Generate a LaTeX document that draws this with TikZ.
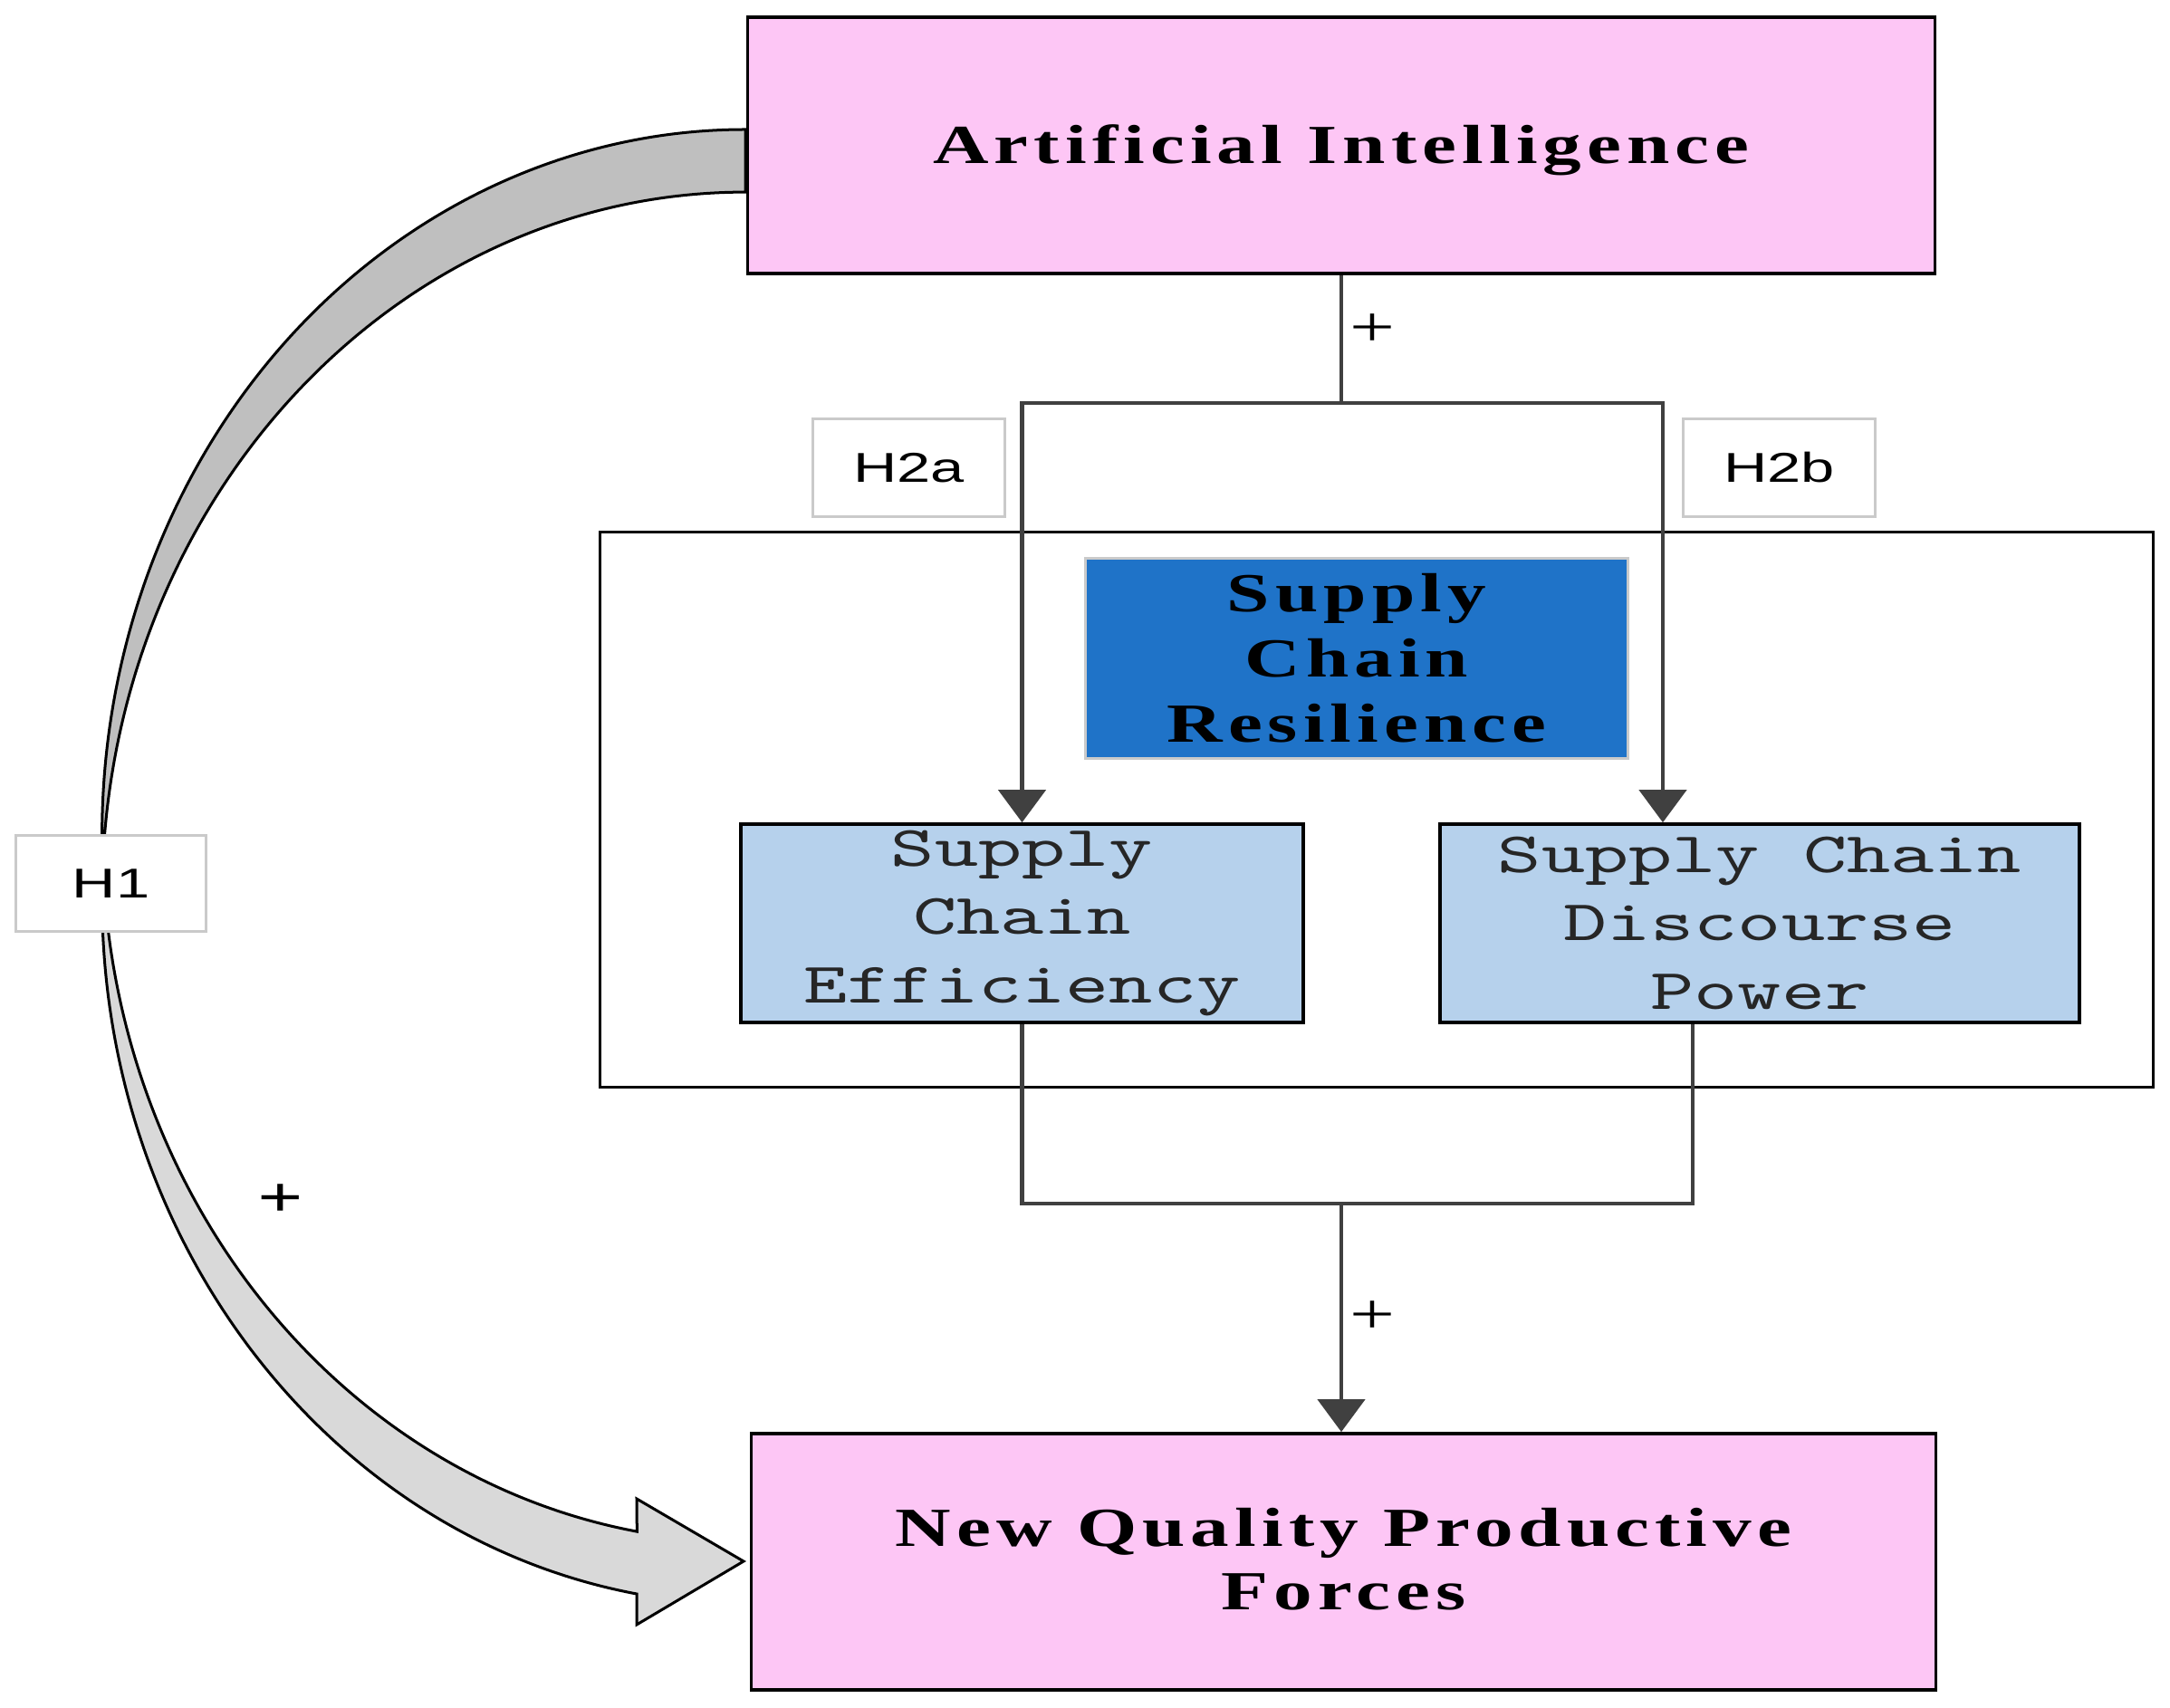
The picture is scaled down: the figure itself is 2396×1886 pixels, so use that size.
\documentclass[tikz,border=0pt]{standalone}
\usepackage{fontspec}
\usetikzlibrary{positioning,arrows.meta}
\newfontfamily\serifwide[FakeStretch=1.4,LetterSpace=10]{Liberation Serif}
\newfontfamily\monowide[FakeStretch=1.45]{lmmono10-regular.otf}
\newfontfamily\sanswide[FakeStretch=1.45]{Liberation Sans}
\definecolor{aipink}{HTML}{FDC6F5}
\definecolor{scrblue}{HTML}{1F73C8}
\definecolor{medblue}{HTML}{B6D1EC}
\definecolor{linkgray}{HTML}{404040}
\definecolor{hbord}{HTML}{CACACA}
\definecolor{backface}{HTML}{BFBFBF}
\definecolor{frontface}{HTML}{D9D9D9}

\begin{document}
\begin{tikzpicture}[x=0.01cm, y=-0.01cm,
            pinkbox/.style={rectangle, draw=black, line width=0.035cm, fill=aipink,
                   minimum width=13.1cm, minimum height=2.83cm, align=center,
                   font=\serifwide\bfseries\fontsize{17.3}{19.9}\selectfont},
            scrbox/.style={rectangle, draw=hbord, line width=0.03cm, fill=scrblue,
                   minimum width=5.98cm, minimum height=2.2cm, align=center,
                   font=\serifwide\bfseries\fontsize{17.3}{20.5}\selectfont},
            medbox/.style={rectangle, draw=black, line width=0.035cm, fill=medblue,
                   minimum height=2.19cm, inner sep=0.05cm, align=center, text=black!85,
                   font=\monowide\fontsize{18}{21.6}\selectfont},
            frame/.style={rectangle, draw=black, line width=0.03cm,
                   minimum width=17.14cm, minimum height=6.12cm},
            hlabel/.style={rectangle, draw=hbord, line width=0.03cm, fill=white,
                   minimum width=2.12cm, minimum height=1.08cm,
                   font=\sanswide\fontsize{13.1}{15}\selectfont},
            plus/.style={inner sep=2pt, font=\serifwide\fontsize{18}{20}\selectfont},
            link/.style={draw=linkgray, line width=0.045cm},
            arrow/.style={link, -{Triangle[width=0.52cm,length=0.36cm]}},
            face/.style={draw=black, line width=0.03cm}
        ]
            \useasboundingbox (0,0) rectangle (2396,1886);

            % H1 block arrow
            \filldraw [face, fill=backface] (823,143)
                arc[start angle=90, end angle=182.54, x radius=7.1cm, y radius=7.795cm]
                arc[start angle=177.46, end angle=90, x radius=7.1cm, y radius=7.795cm] -- cycle;
            \filldraw [face, fill=frontface] (113.7,957)
                arc[start angle=182.54, end angle=260.27, x radius=7.1cm, y radius=7.795cm]
                -- (703,1655) -- (821,1724) -- (703,1794) -- (703,1760)
                arc[start angle=260.27, end angle=177.46, x radius=7.1cm, y radius=7.795cm] -- cycle;

            \node [frame] (frame) at (1520,894) {};
            \node [pinkbox, text height=0.53cm, text depth=0.13cm] (ai) at (1481,160.5) {Artificial Intelligence};
            \node [pinkbox, minimum width=13.07cm, text height=1.05cm, text depth=0cm] (nqpf) at (1483.5,1724.5) {New Quality Productive\\Forces};
            \node [scrbox] (scr) at (1498,727) {Supply\\Chain\\Resilience};
            \node [medbox, minimum width=6.21cm] (sce) at (1128.5,1019.5) {Supply\\Chain\\Efficiency};
            \node [medbox, minimum width=7.06cm] (scdp) at (1943,1019.5) {Supply Chain\\Discourse\\Power};
            \node [hlabel] (h2a) at (1003.5,516.5) {H2a};
            \node [hlabel] (h2b) at (1964.5,516.5) {H2b};
            \node [hlabel, minimum width=2.09cm, minimum height=1.05cm] (h1) at (122.5,975.5) {H1};
            \node [plus, font=\serifwide\bfseries\fontsize{18}{20}\selectfont] (hplus) at (310,1326) {+};

            \coordinate (topsplit) at (1481,445);
            \coordinate (tr) at (1836,445);
            \coordinate (botsplit) at (1481,1329);
            \coordinate (br) at (1869,1329);

            % Draw edges
            \draw [link] (ai.south) -- node [plus, right, pos=0.43] {+} (topsplit);
            \draw [arrow] (topsplit) -| (sce.north);
            \draw [arrow] (topsplit) -- (tr) -- (tr |- scdp.north);
            \draw [link] (sce.south) |- (br) -- (br |- scdp.south);
            \draw [arrow] (botsplit) -- node [plus, right, pos=0.5] {+} (botsplit |- nqpf.north);
        \end{tikzpicture}
\end{document}
